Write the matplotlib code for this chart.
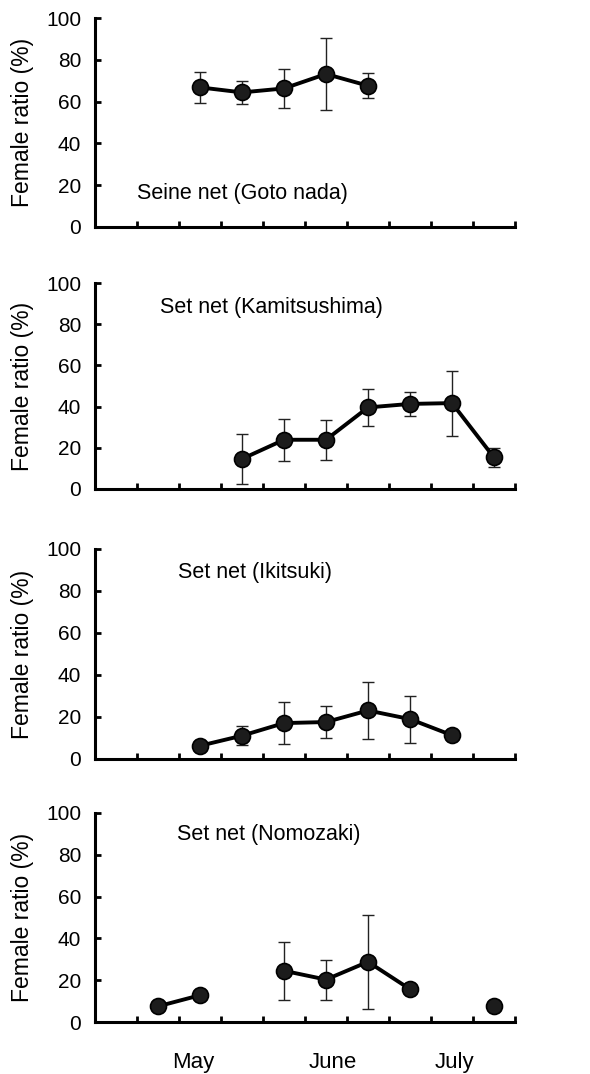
import numpy as np
import matplotlib
matplotlib.use("Agg")
import matplotlib.pyplot as plt

plt.rcParams['font.family'] = ['Liberation Sans', 'DejaVu Sans']

# ten-day periods from late April to late July (one value per period, nan = no sample)
periods = np.arange(10) + 0.5

titles = ["Seine net (Goto nada)", "Set net (Kamitsushima)",
          "Set net (Ikitsuki)", "Set net (Nomozaki)"]

nan = np.nan
goto_ratio = [nan, nan, 66.8, 64.4, 66.3, 73.2, 67.6, nan, nan, nan]
goto_sd = [0, 0, 7.5, 5.5, 9.3, 17.0, 6.0, 0, 0, 0]

kami_ratio = [nan, nan, nan, 14.6, 23.9, 23.9, 39.6, 41.3, 41.7, 15.3]
kami_sd = [0, 0, 0, 12.1, 10.3, 9.7, 8.9, 5.9, 15.8, 4.8]

iki_ratio = [nan, nan, 6.3, 11.1, 17.1, 17.6, 23.1, 19.0, 11.3, nan]
iki_sd = [0, 0, 0, 4.5, 10.0, 7.5, 13.6, 11.2, 0, 0]

nomo_ratio = [nan, 7.5, 12.8, nan, 24.5, 20.3, 28.8, 15.7, nan, 7.5]
nomo_sd = [0, 0, 0, 0, 14.0, 9.6, 22.6, 0, 0, 0]

ratios = [goto_ratio, kami_ratio, iki_ratio, nomo_ratio]
sds = [goto_sd, kami_sd, iki_sd, nomo_sd]

months = ["May", "June", "July"]
month_pos = [2.33, 5.67, 8.57]

# title anchor (x, y) in data units for each panel
title_pos = [(1.0, 16), (1.55, 88), (1.98, 88.7), (1.95, 89.6)]

W, H = 590, 1074
fig = plt.figure(figsize=(W / 100, H / 100), dpi=100)

# panel frames in pixels: (top, bottom)
frames = [(18, 227), (283, 489), (549, 759), (813, 1022)]
left_px, right_px = 95, 515

axes = []
for i, (top, bot) in enumerate(frames):
    ax = fig.add_axes([left_px / W, 1 - bot / H,
                       (right_px - left_px) / W, (bot - top) / H])
    y = np.array(ratios[i], dtype=float)
    e = np.array(sds[i], dtype=float)

    has_err = (e > 0) & ~np.isnan(y)
    ax.errorbar(periods[has_err], y[has_err], yerr=e[has_err], fmt='none',
                ecolor='#222222', elinewidth=1.0, capsize=4, capthick=1.0, zorder=2)
    ax.plot(periods, y, color='black', lw=2.8, zorder=3)
    ax.plot(periods, y, 'o', ms=11.5, mfc='#1c1c1c', mec='black', mew=1.2, zorder=4)

    ax.set_xlim(0, 10)
    ax.set_ylim(0, 100)
    ax.set_xticks(np.arange(0, 11))
    ax.set_xticklabels([])
    ax.set_yticks(range(0, 101, 20))
    ax.tick_params(axis='both', direction='in', length=4, width=2, labelsize=15,
                   pad=10)
    for side in ['top', 'right']:
        ax.spines[side].set_visible(False)
    for side in ['left', 'bottom']:
        ax.spines[side].set_linewidth(2.2)
    ax.set_ylabel("Female ratio (%)", fontsize=16.5)
    ax.yaxis.set_label_coords(-0.145, 0.5)

    tx, ty = title_pos[i]
    ax.text(tx, ty, titles[i], fontsize=15.5, ha='left', va='center')
    axes.append(ax)

for name, xm in zip(months, month_pos):
    axes[-1].text(xm, -19.5, name, fontsize=16, ha='center', va='center',
                  clip_on=False)

fig.savefig("out.png", dpi=100)
